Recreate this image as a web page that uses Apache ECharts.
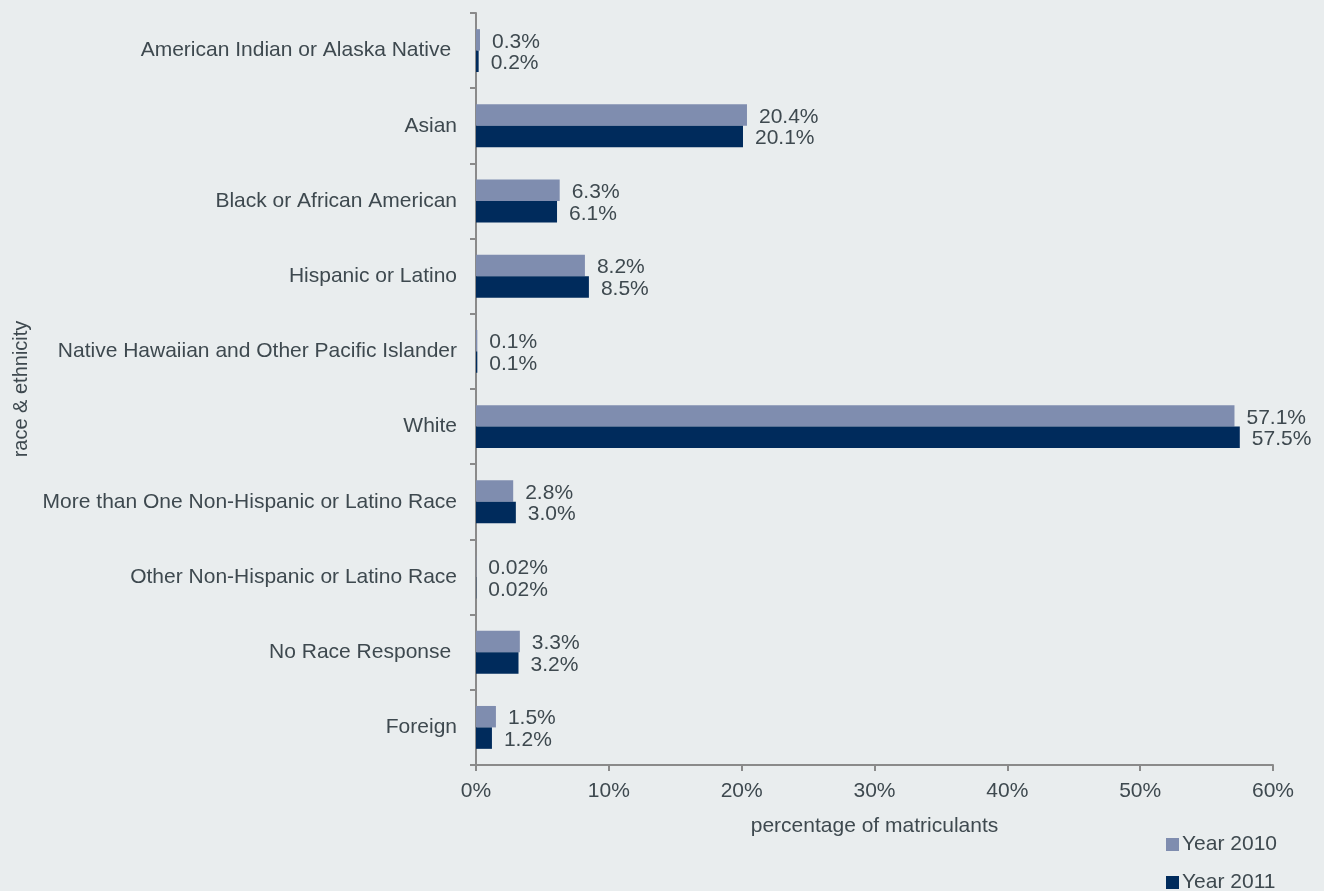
<!DOCTYPE html>
<html>
<head>
<meta charset="utf-8">
<script src="https://cdn.jsdelivr.net/npm/echarts@6/dist/echarts.min.js"></script>
<style>
html,body{margin:0;padding:0;background:#E9EDEE;}
#c{width:1324px;height:891px;}
</style>
</head>
<body>
<div id="c"></div>
<script>
const categories = [
  "American Indian or Alaska Native ",
  "Asian",
  "Black or African American",
  "Hispanic or Latino",
  "Native Hawaiian and Other Pacific Islander",
  "White",
  "More than One Non-Hispanic or Latino Race",
  "Other Non-Hispanic or Latino Race",
  "No Race Response ",
  "Foreign"
];
const year2010 = [0.3, 20.4, 6.3, 8.2, 0.1, 57.1, 2.8, 0.02, 3.3, 1.5];
const year2011 = [0.2, 20.1, 6.1, 8.5, 0.1, 57.5, 3.0, 0.02, 3.2, 1.2];
const xTicks = [0, 10, 20, 30, 40, 50, 60];

const textColor = '#3E494F';
const font = 'Liberation Sans, Arial, sans-serif';
const fs = 21;
function fmt(v){ return (v < 0.1 ? String(v) : v.toFixed(1)) + '%'; }

const chart = echarts.init(document.getElementById('c'));
chart.setOption({
  backgroundColor: '#E9EDEE',
  animation: false,
  textStyle: { fontFamily: font, color: textColor },
  grid: { left: 476, right: 51, top: 13, bottom: 126, containLabel: false, outerBoundsMode: 'none' },
  legend: {
    orient: 'vertical',
    right: 47,
    top: 834,
    height: 80,
    padding: 0,
    icon: 'rect',
    itemWidth: 13,
    itemHeight: 13,
    itemGap: 17,
    textStyle: { fontSize: fs, color: textColor, fontFamily: font, padding: [0,0,0,-2] },
    data: ['Year 2010', 'Year 2011']
  },
  xAxis: {
    type: 'value',
    min: xTicks[0],
    max: xTicks[xTicks.length - 1],
    interval: 10,
    name: 'percentage of matriculants',
    nameLocation: 'middle',
    nameGap: 51,
    nameTextStyle: { fontSize: fs, color: textColor, fontFamily: font },
    axisLine: { show: true, lineStyle: { color: '#8A8A8A', width: 2 } },
    axisTick: { show: true, length: 6, lineStyle: { color: '#8A8A8A', width: 2 } },
    axisLabel: { fontSize: fs, color: textColor, margin: 16, formatter: v => v + '%' },
    splitLine: { show: false }
  },
  yAxis: {
    type: 'category',
    inverse: true,
    data: categories,
    name: 'race & ethnicity',
    nameLocation: 'middle',
    nameGap: 445,
    nameRotate: 90,
    nameTextStyle: { fontSize: fs - 1, color: textColor, fontFamily: font },
    axisLine: { show: true, lineStyle: { color: '#8A8A8A', width: 2 } },
    axisTick: { show: true, length: 6, lineStyle: { color: '#8A8A8A', width: 2 } },
    axisLabel: { fontSize: fs, color: textColor, margin: 19 },
    splitLine: { show: false }
  },
  series: [
    {
      name: 'Year 2010',
      type: 'bar',
      data: year2010,
      barGap: '0%',
      barCategoryGap: '43%',
      itemStyle: { color: '#7F8DAF' },
      label: { show: true, position: 'right', distance: 12, offset: [0, 2], fontSize: fs, color: textColor, fontFamily: font, formatter: p => fmt(p.value) }
    },
    {
      name: 'Year 2011',
      type: 'bar',
      data: year2011,
      barGap: '0%',
      barCategoryGap: '43%',
      itemStyle: { color: '#002B5C' },
      label: { show: true, position: 'right', distance: 12, offset: [0, 2], fontSize: fs, color: textColor, fontFamily: font, formatter: p => fmt(p.value) }
    }
  ]
});
</script>
</body>
</html>
